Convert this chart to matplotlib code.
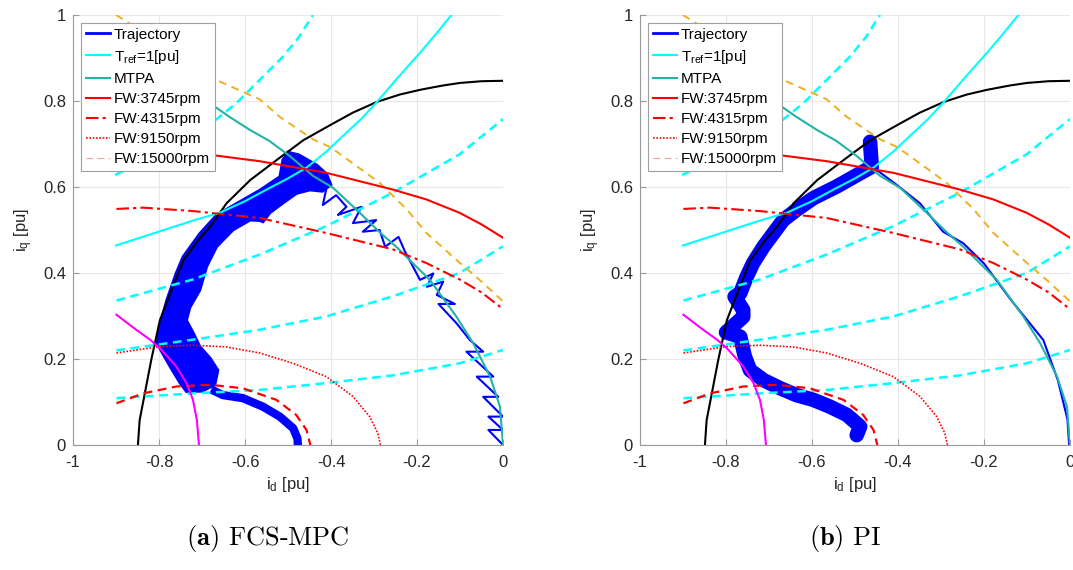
import numpy as np
import matplotlib
matplotlib.use("Agg")
import matplotlib.pyplot as plt
from matplotlib.lines import Line2D

plt.rcParams["font.family"] = ["Liberation Sans", "DejaVu Sans"]
plt.rcParams["mathtext.fontset"] = "custom"
plt.rcParams["mathtext.rm"] = "Liberation Sans"
plt.rcParams["mathtext.it"] = "Liberation Sans:italic"
plt.rcParams["mathtext.bf"] = "Liberation Sans:bold"
plt.rcParams["axes.unicode_minus"] = False

# ---- curves (id, iq in pu) ----
CIRC_X = [-0.849, -0.845, -0.833, -0.818, -0.798, -0.771, -0.743, -0.710, -0.681, -0.643,
          -0.588, -0.526, -0.464, -0.400, -0.349, -0.293, -0.240, -0.193, -0.140, -0.100, -0.050, 0.0]
CIRC_Y = [0.0, 0.058, 0.12, 0.198, 0.29, 0.36, 0.43, 0.475, 0.508, 0.562,
          0.616, 0.663, 0.709, 0.745, 0.773, 0.798, 0.815, 0.826, 0.836, 0.842, 0.846, 0.847]

TREF_X = [-0.9, -0.798, -0.721, -0.659, -0.6, -0.55, -0.5, -0.457, -0.41, -0.372, -0.33,
          -0.293, -0.25, -0.22, -0.193, -0.155, -0.12]
TREF_Y = [0.464, 0.497, 0.522, 0.54, 0.567, 0.594, 0.62, 0.645, 0.683, 0.719, 0.758,
          0.798, 0.848, 0.882, 0.912, 0.957, 1.0]

T1_X = [-0.902, -0.8, -0.688, -0.62, -0.558, -0.512, -0.475, -0.442]
T1_Y = [0.628, 0.677, 0.74, 0.795, 0.857, 0.903, 0.948, 1.0]
T2_X = [-0.899, -0.721, -0.566, -0.411, -0.256, -0.101, 0.0]
T2_Y = [0.336, 0.385, 0.443, 0.509, 0.587, 0.676, 0.758]
T3_X = [-0.899, -0.721, -0.566, -0.411, -0.256, -0.101, 0.0]
T3_Y = [0.22, 0.245, 0.268, 0.299, 0.346, 0.4, 0.462]
T4_X = [-0.899, -0.721, -0.566, -0.411, -0.256, -0.101, 0.0]
T4_Y = [0.109, 0.12, 0.128, 0.144, 0.162, 0.19, 0.221]

ORNG_X = [-0.9, -0.78, -0.667, -0.566, -0.519, -0.442, -0.402, -0.345, -0.286, -0.223,
          -0.178, -0.101, -0.05, 0.0]
ORNG_Y = [1.0, 0.925, 0.849, 0.804, 0.763, 0.711, 0.693, 0.652, 0.609, 0.547,
          0.493, 0.424, 0.38, 0.334]

MTPA_X = [-0.80, -0.74, -0.698, -0.682, -0.636, -0.589, -0.543, -0.496, -0.442, -0.395,
          -0.333, -0.287, -0.247, -0.21, -0.17, -0.108, -0.069, -0.030, -0.007, 0.0]
MTPA_Y = [0.87, 0.835, 0.804, 0.795, 0.763, 0.733, 0.707, 0.672, 0.626, 0.598,
          0.54, 0.495, 0.46, 0.423, 0.384, 0.298, 0.236, 0.159, 0.089, 0.0]

FW1_X = [-0.9, -0.8, -0.69, -0.566, -0.411, -0.256, -0.178, -0.101, -0.05, 0.0]
FW1_Y = [0.68, 0.679, 0.676, 0.66, 0.633, 0.594, 0.571, 0.54, 0.513, 0.482]
FW2_X = [-0.899, -0.837, -0.721, -0.566, -0.411, -0.256, -0.178, -0.101, -0.05, 0.0]
FW2_Y = [0.549, 0.552, 0.544, 0.528, 0.493, 0.455, 0.423, 0.385, 0.355, 0.316]
FW3_X = [-0.899, -0.798, -0.721, -0.643, -0.566, -0.488, -0.411, -0.349, -0.31, -0.291, -0.285]
FW3_Y = [0.214, 0.229, 0.232, 0.228, 0.214, 0.19, 0.159, 0.113, 0.066, 0.027, 0.0]
FW4_X = [-0.899, -0.837, -0.76, -0.682, -0.605, -0.527, -0.481, -0.457, -0.448]
FW4_Y = [0.097, 0.12, 0.136, 0.14, 0.132, 0.105, 0.07, 0.035, 0.0]

MAG_X = [-0.899, -0.853, -0.821, -0.798, -0.76, -0.736, -0.721, -0.712, -0.707]
MAG_Y = [0.303, 0.268, 0.245, 0.225, 0.183, 0.144, 0.105, 0.058, 0.0]

# FCS-MPC trajectory: outline of the dense band, tail, and the zigzag along MTPA
MPC_BAND_X = [-0.736, -0.751, -0.774, -0.79, -0.805, -0.80, -0.782, -0.76, -0.744, -0.705,
              -0.666, -0.619, -0.565, -0.519, -0.512, -0.5, -0.475, -0.433, -0.41, -0.40,
              -0.42, -0.449, -0.48, -0.511, -0.542, -0.558, -0.566, -0.588, -0.628, -0.666,
              -0.689, -0.705, -0.728, -0.736, -0.72, -0.705, -0.681, -0.663, -0.67, -0.70]
MPC_BAND_Y = [0.124, 0.144, 0.182, 0.21, 0.237, 0.27, 0.337, 0.40, 0.438, 0.492,
              0.535, 0.562, 0.593, 0.624, 0.663, 0.681, 0.675, 0.651, 0.63, 0.605,
              0.59, 0.593, 0.585, 0.563, 0.54, 0.519, 0.522, 0.523, 0.5, 0.461,
              0.415, 0.36, 0.32, 0.29, 0.26, 0.229, 0.202, 0.174, 0.14, 0.125]
MPC_TAIL_X = [-0.67, -0.651, -0.605, -0.558, -0.519, -0.488, -0.478, -0.477]
MPC_TAIL_Y = [0.125, 0.116, 0.109, 0.089, 0.066, 0.039, 0.015, 0.0]
MPC_ZIG_X = [-0.41, -0.419, -0.388, -0.364, -0.384, -0.329, -0.349, -0.295, -0.326, -0.287,
             -0.274, -0.243, -0.228, -0.193, -0.162, -0.177, -0.139, -0.154, -0.112, -0.15,
             -0.108, -0.077, -0.046, -0.085, -0.0225, -0.061, -0.011, -0.046, 0.0, -0.034,
             0.0, -0.034, 0.0]
MPC_ZIG_Y = [0.60, 0.558, 0.581, 0.554, 0.535, 0.554, 0.516, 0.523, 0.496, 0.5,
             0.461, 0.484, 0.45, 0.384, 0.399, 0.368, 0.38, 0.349, 0.328, 0.328,
             0.283, 0.244, 0.217, 0.217, 0.159, 0.159, 0.112, 0.112, 0.066, 0.066,
             0.035, 0.035, 0.0]

# PI trajectory: thick centre line and thin tail along MTPA
PI_X = [-0.465, -0.461, -0.488, -0.543, -0.597, -0.636, -0.667, -0.69, -0.713, -0.737,
        -0.752, -0.767, -0.78, -0.76, -0.76, -0.80, -0.767, -0.756, -0.744, -0.713,
        -0.674, -0.636, -0.597, -0.558, -0.519, -0.488, -0.496]
PI_Y = [0.705, 0.647, 0.632, 0.601, 0.574, 0.547, 0.523, 0.492, 0.461, 0.423,
        0.391, 0.353, 0.345, 0.314, 0.298, 0.262, 0.252, 0.205, 0.174, 0.151,
        0.132, 0.116, 0.105, 0.089, 0.07, 0.043, 0.023]
PI_THIN_X = [-0.45, -0.403, -0.349, -0.295, -0.248, -0.2, -0.137, -0.062, -0.028, -0.006, -0.002]
PI_THIN_Y = [0.64, 0.605, 0.562, 0.496, 0.469, 0.422, 0.337, 0.244, 0.15, 0.06, 0.0]

XTICKS = [-1, -0.8, -0.6, -0.4, -0.2, 0]
YTICKS = [0, 0.2, 0.4, 0.6, 0.8, 1]
CAPTIONS = [r"$\mathbf{(a)}$ FCS-MPC", r"$\mathbf{(b)}$ PI"]

BLUE, CYAN, TEAL, RED, ORANGE = "#0000ff", "#00ffff", "#22b2a6", "#ff0000", "#edb120"


def base_curves(ax):
    ax.plot(CIRC_X, CIRC_Y, color="black", lw=1.5)
    ax.plot(TREF_X, TREF_Y, color=CYAN, lw=1.5)
    for xs, ys in [(T1_X, T1_Y), (T2_X, T2_Y), (T3_X, T3_Y), (T4_X, T4_Y)]:
        ax.plot(xs, ys, color=CYAN, lw=1.8, dashes=(3.5, 2.2))
    ax.plot(ORNG_X, ORNG_Y, color=ORANGE, lw=1.4, dashes=(4, 3))
    ax.plot(MTPA_X, MTPA_Y, color=TEAL, lw=1.5)
    ax.plot(FW1_X, FW1_Y, color=RED, lw=1.5)
    ax.plot(FW2_X, FW2_Y, color=RED, lw=1.5, dashes=(6, 2, 1.5, 2))
    ax.plot(FW3_X, FW3_Y, color=RED, lw=1.2, dashes=(1, 1))
    ax.plot(FW4_X, FW4_Y, color=RED, lw=1.6, dashes=(4, 2.5))
    ax.plot(MAG_X, MAG_Y, color="#ff00ff", lw=1.5)


def style(ax):
    ax.set_xlim(-1, 0)
    ax.set_ylim(0, 1)
    ax.set_xticks(XTICKS)
    ax.set_xticklabels(["-1", "-0.8", "-0.6", "-0.4", "-0.2", "0"])
    ax.set_yticks(YTICKS)
    ax.set_yticklabels(["0", "0.2", "0.4", "0.6", "0.8", "1"])
    ax.grid(True, color="#e8e8e8", lw=0.8)
    ax.set_axisbelow(True)
    for sp in ["top", "right"]:
        ax.spines[sp].set_visible(False)
    for sp in ["left", "bottom"]:
        ax.spines[sp].set_color("#9a9a9a")
        ax.spines[sp].set_linewidth(0.8)
    ax.tick_params(direction="in", length=4, color="#9a9a9a", labelsize=12,
                   labelcolor="#262626")
    ax.tick_params(axis="x", pad=7)
    ax.tick_params(axis="y", pad=5)
    ax.set_xlabel(r"i$_{\mathrm{d}}$ [pu]", fontsize=12, color="#262626", labelpad=4)
    ax.set_ylabel(r"i$_{\mathrm{q}}$ [pu]", fontsize=12, color="#262626", labelpad=6)
    handles = [
        Line2D([], [], color=BLUE, lw=2),
        Line2D([], [], color=CYAN, lw=1.5),
        Line2D([], [], color=TEAL, lw=1.5),
        Line2D([], [], color=RED, lw=1.5),
        Line2D([], [], color=RED, lw=1.5, dashes=(6, 2, 1.5, 2)),
        Line2D([], [], color=RED, lw=1.2, dashes=(1, 1)),
        Line2D([], [], color="#f5a0a0", lw=0.8, dashes=(6, 4)),
    ]
    labels = ["Trajectory", r"T$_{\mathrm{ref}}$=1[pu]", "MTPA", "FW:3745rpm",
              "FW:4315rpm", "FW:9150rpm", "FW:15000rpm"]
    leg = ax.legend(handles, labels, loc="upper left", fontsize=11, frameon=True,
                    fancybox=False, edgecolor="#a0a0a0", framealpha=1,
                    handlelength=1.6, handletextpad=0.25, borderpad=0.33,
                    labelspacing=0.4, borderaxespad=0.5)
    leg.get_frame().set_linewidth(0.8)


fig = plt.figure(figsize=(10.73, 5.70), dpi=100)
W, H = 1073, 570
ax1 = fig.add_axes([73 / W, 125 / H, 430 / W, 430 / H])
ax2 = fig.add_axes([640 / W, 125 / H, 430 / W, 430 / H])

# (a) FCS-MPC
ax1.fill(MPC_BAND_X, MPC_BAND_Y, color=BLUE, lw=2)
ax1.plot(MPC_TAIL_X, MPC_TAIL_Y, color=BLUE, lw=6)
ax1.plot(MPC_ZIG_X, MPC_ZIG_Y, color=BLUE, lw=1.5)
base_curves(ax1)
style(ax1)

# (b) PI
ax2.plot(PI_THIN_X, PI_THIN_Y, color=BLUE, lw=1.5)
ax2.plot(PI_X, PI_Y, color=BLUE, lw=10.5, solid_capstyle="round", solid_joinstyle="round")
base_curves(ax2)
style(ax2)

fig.text(268 / W, 1 - 538 / H, CAPTIONS[0], fontfamily="cmr10", math_fontfamily="cm",
         fontsize=19, ha="center", va="center")
fig.text(845 / W, 1 - 538 / H, CAPTIONS[1], fontfamily="cmr10", math_fontfamily="cm",
         fontsize=19, ha="center", va="center")

fig.savefig("out.png", dpi=100)
